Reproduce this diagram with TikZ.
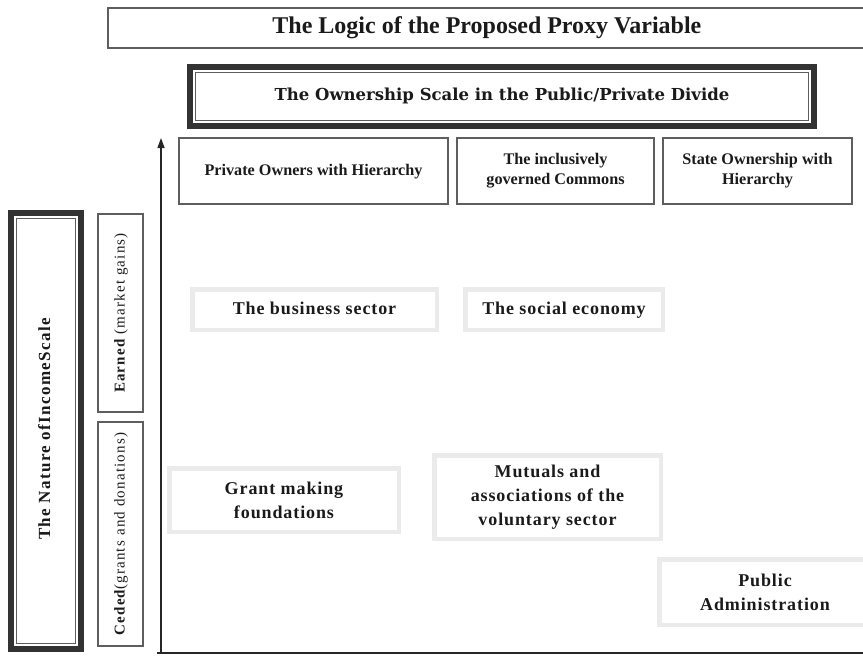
\documentclass[tikz,border=0pt]{standalone}
\usepackage{fontspec}
\setmainfont{Liberation Serif}
\newfontfamily\ownfont{DejaVu Serif}
\newfontfamily\spacedfont[LetterSpace=5]{Liberation Serif}
\newfontfamily\sidefont[LetterSpace=8]{Liberation Serif}
\usetikzlibrary{arrows.meta}
\definecolor{darkband}{HTML}{333333}
\definecolor{framegray}{HTML}{5E5E5E}
\definecolor{lightframe}{HTML}{EBEBEB}
\definecolor{inktext}{HTML}{1A1A1A}
\begin{document}
\begin{tikzpicture}[x=1pt,y=-1pt,
  every node/.style={text=inktext, inner sep=0pt, outer sep=0pt},
  titlebox/.style={draw=framegray, line width=1.5pt, rectangle},
  heavybox/.style={draw=darkband, line width=6pt, rectangle},
  innerline/.style={draw=framegray, line width=1.4pt},
  headbox/.style={draw=framegray, line width=2pt, rectangle, align=center,
    font=\fontsize{16.2}{20}\selectfont\bfseries},
  sidebox/.style={draw=framegray, line width=2pt, rectangle},
  softbox/.style={draw=lightframe, line width=4.5pt, rectangle, align=center,
    font=\spacedfont\fontsize{18}{24}\selectfont\bfseries},
  sidetext/.style={rotate=90, font=\sidefont\fontsize{15}{18}\selectfont},
  axisline/.style={draw=black!85, line width=1.3pt}
]
\useasboundingbox (0,0) rectangle (863,659);

% title
\node[titlebox, minimum width=758pt, minimum height=40pt,
  font=\fontsize{24}{28}\selectfont\bfseries] (title) at (486.9,27.75)
  {\strut The Logic of the Proposed Proxy Variable};

% ownership scale
\node[heavybox, minimum width=624pt, minimum height=59pt,
  font=\ownfont\fontsize{16.5}{20}\selectfont\bfseries] (own) at (502,96.5)
  {\strut The Ownership Scale in the Public/Private Divide};
\draw[innerline] ([shift={(5.5,5.5)}]own.north west) rectangle ([shift={(-5.5,-5.5)}]own.south east);

% top row
\node[headbox, minimum width=269pt, minimum height=66pt] (priv) at (313.5,171)
  {\strut Private Owners with Hierarchy};
\node[headbox, minimum width=197pt, minimum height=66pt] (comm) at (555.5,171)
  {The inclusively\\governed Commons};
\node[headbox, minimum width=189pt, minimum height=66pt] (state) at (757.5,171)
  {State Ownership with\\Hierarchy};

% left scale
\node[heavybox, minimum width=70pt, minimum height=436pt] (income) at (46,431) {};
\draw[innerline] ([shift={(5.5,5.5)}]income.north west) rectangle ([shift={(-5.5,-5.5)}]income.south east);
\node[rotate=90, font=\sidefont\fontsize{17}{20}\selectfont\bfseries] (incometext) at (46,429)
  {\strut The Nature ofIncomeScale};

\node[sidebox, minimum width=45pt, minimum height=198pt] (earned) at (120.5,313) {};
\node[sidetext] (earnedtext) at (121,313) {\strut{\bfseries Earned} (market gains)};
\node[sidebox, minimum width=45pt, minimum height=224pt] (ceded) at (120.5,534) {};
\node[sidetext] (cededtext) at (121,534) {\strut{\bfseries Ceded}(grants and donations)};

% axes
\coordinate (origin) at (161,653);
\coordinate (ytop) at (161,138);
\coordinate (xleft) at (157,653);
\coordinate (xright) at (863,653);
\draw[axisline, -{Triangle[length=10pt,width=7pt]}] (origin) -- (ytop);
\draw[axisline] (xleft) -- (xright);

% sectors
\node[softbox, minimum width=244.5pt, minimum height=40.5pt] (business) at (314.5,309.5)
  {\strut The business sector};
\node[softbox, minimum width=197.5pt, minimum height=40.5pt] (social) at (564,309.5)
  {\strut The social economy};
\node[softbox, minimum width=229.5pt, minimum height=63.5pt] (grant) at (284,500)
  {Grant making\\foundations};
\node[softbox, minimum width=226.5pt, minimum height=83.5pt] (mutual) at (547.5,497)
  {Mutuals and\\associations of the\\voluntary sector};
\node[softbox, minimum width=211.5pt, minimum height=65.5pt] (public) at (765,592)
  {Public\\Administration};
\end{tikzpicture}
\end{document}
